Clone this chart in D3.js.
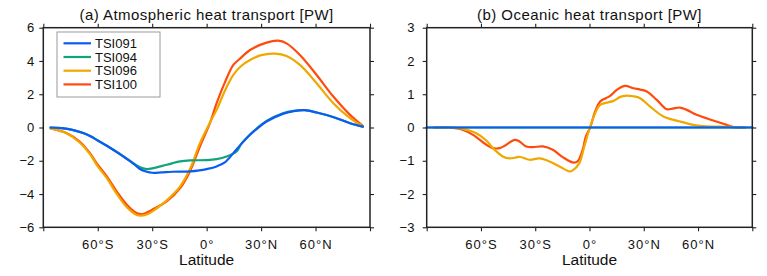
<!DOCTYPE html>
<html><head><meta charset="utf-8">
<script src="https://cdn.jsdelivr.net/npm/d3@7"></script>
<style>
html,body{margin:0;padding:0;background:#fff;}
svg text{font-family:"Liberation Sans",Arial,Helvetica,sans-serif;fill:#111;}
</style></head>
<body>
<svg id="c" width="767" height="276"></svg>
<script>
// ---------- DATA ----------
const seriesNames = ["TSI091", "TSI094", "TSI096", "TSI100"];
const seriesColors = ["#0b5cf5", "#13a37a", "#f0a800", "#ff4b0c"];
const xTickValues = [-90, -60, -30, 0, 30, 60, 90];
const xTickLabels = ["", "60°S", "30°S", "0°", "30°N", "60°N", ""];
const titles = ["(a) Atmospheric heat transport [PW]", "(b) Oceanic heat transport [PW]"];
const xLabel = "Latitude";

// Atmospheric heat transport [lat, PW]
const atmTSI091 = [[-86,0],[-80,-0.04],[-74,-0.14],[-68,-0.33],[-64,-0.52],[-60,-0.78],[-55,-1.1],[-46,-1.74],[-40,-2.2],[-37,-2.48],[-33,-2.66],[-30,-2.72],[-25,-2.7],[-19,-2.66],[-9,-2.64],[-4,-2.58],[0,-2.5],[5.5,-2.34],[10,-2.1],[14.7,-1.54],[19,-1.0],[23.9,-0.44],[28,-0.05],[33,0.36],[42,0.82],[48,0.98],[54,1.04],[60.6,0.9],[70,0.62],[79,0.26],[86,0.05]];
const atmTSI094 = [[-86,0],[-80,-0.04],[-74,-0.14],[-68,-0.33],[-64,-0.52],[-60,-0.78],[-55,-1.1],[-46,-1.72],[-40,-2.18],[-37,-2.38],[-33,-2.5],[-30,-2.46],[-22,-2.24],[-14.6,-2.04],[-9,-1.98],[0,-1.96],[5.5,-1.9],[11,-1.74],[16.5,-1.44],[19,-1.0],[23.9,-0.42],[28,-0.02],[33,0.4],[42,0.86],[48,1.0],[54,1.04],[60.6,0.9],[70,0.62],[79,0.26],[86,0.05]];
const atmTSI096 = [[-86,-0.05],[-77,-0.36],[-70,-0.9],[-64.3,-1.6],[-60,-2.34],[-55,-3.05],[-49.6,-3.98],[-44,-4.8],[-38.6,-5.26],[-36,-5.3],[-32,-5.18],[-28,-4.9],[-22,-4.38],[-14.6,-3.54],[-9.2,-2.5],[-3.7,-0.94],[1.8,0.3],[5.5,1.06],[10,2.2],[14.7,3.16],[19,3.7],[23.9,4.06],[30,4.35],[37.6,4.44],[44,4.3],[51.4,3.76],[60.6,2.66],[69.8,1.46],[79,0.56],[86,0.06]];
const atmTSI100 = [[-86,-0.05],[-77,-0.34],[-70,-0.84],[-64.3,-1.54],[-60,-2.24],[-55,-2.94],[-49.6,-3.84],[-44,-4.64],[-38.6,-5.14],[-35,-5.2],[-30,-4.94],[-22,-4.44],[-14.6,-3.64],[-9.2,-2.64],[-3.7,-1.14],[1.8,0.26],[5.5,1.46],[10,2.7],[14.7,3.76],[18,4.1],[23.9,4.66],[33,5.1],[39.4,5.22],[44,5.06],[51.4,4.36],[60.6,3.16],[69.8,1.86],[79,0.76],[86,0.1]];

// Oceanic heat transport [lat, PW]
const ocnTSI091 = [[-90,0],[90,0]];
const ocnTSI094 = [[-90,0],[90,0]];
const ocnTSI096 = [[-86,0],[-75,0],[-68,-0.07],[-62.6,-0.17],[-57,-0.39],[-53.4,-0.62],[-47.9,-0.87],[-44.3,-0.93],[-40.5,-0.9],[-38.7,-0.88],[-33.2,-0.97],[-27.7,-0.93],[-22.1,-1.02],[-16.6,-1.17],[-11.1,-1.32],[-9.3,-1.29],[-5.6,-1.07],[-2.9,-0.57],[0.4,0.03],[3.1,0.43],[5.9,0.68],[9,0.74],[13.3,0.8],[17,0.92],[20.6,0.96],[24,0.94],[28,0.88],[33.5,0.63],[40.9,0.33],[50,0.18],[57.3,0.08],[62.8,0.04],[77.6,0.02],[86,0]];
const ocnTSI100 = [[-86,0],[-77.7,0],[-70,-0.07],[-64.4,-0.22],[-57,-0.52],[-53.4,-0.62],[-49.7,-0.62],[-46,-0.52],[-41.4,-0.37],[-38.7,-0.42],[-35,-0.57],[-31.3,-0.59],[-25.8,-0.57],[-20.3,-0.67],[-14.8,-0.89],[-9.3,-1.05],[-6.6,-1.02],[-3.8,-0.67],[-2,-0.27],[0.4,0],[3.1,0.48],[5.9,0.78],[9,0.88],[11.4,0.95],[15.1,1.13],[19.7,1.25],[24.3,1.18],[28,1.14],[31.7,1.08],[37.2,0.83],[42.7,0.55],[46,0.57],[50,0.6],[53.7,0.53],[59.2,0.38],[68.4,0.21],[75.8,0.08],[79.5,0.01],[86,0]];

const atmSeries = [atmTSI091, atmTSI094, atmTSI096, atmTSI100];
const ocnSeries = [ocnTSI091, ocnTSI094, ocnTSI096, ocnTSI100];
const atmYTicks = [-6, -4, -2, 0, 2, 4, 6];
const ocnYTicks = [-3, -2, -1, 0, 1, 2, 3];

// ---------- DRAW ----------
const svg = d3.select("#c");
const fmt = d3.format("");

const panels = [
  {x0: 43.3, x1: 370, y0: 27.7, y1: 227.3, dom: [-6, 6], yt: atmYTicks, series: atmSeries, title: titles[0], ypad: 5, legend: true},
  {x0: 426.7, x1: 752.3, y0: 27.7, y1: 227.3, dom: [-3, 3], yt: ocnYTicks, series: ocnSeries, title: titles[1], ypad: 8.3, legend: false}
];

panels.forEach(p => {
  const x = d3.scaleLinear().domain([-90, 90]).range([p.x0, p.x1]);
  const y = d3.scaleLinear().domain(p.dom).range([p.y1, p.y0]);
  const g = svg.append("g");

  // lines (draw order: TSI100, TSI096, TSI094, TSI091 on top)
  const line = d3.line().x(d => x(d[0])).y(d => y(d[1])).curve(d3.curveCatmullRom.alpha(0.5));
  [3, 2, 1, 0].forEach(i => {
    g.append("path").datum(p.series[i])
      .attr("d", line).attr("fill", "none")
      .attr("stroke", seriesColors[i]).attr("stroke-width", 2.2)
      .attr("stroke-linejoin", "round").attr("stroke-linecap", "round");
  });

  // axes
  const styleAxis = sel => {
    sel.select(".domain").remove();
    sel.selectAll(".tick line").attr("stroke", "#222").attr("stroke-width", 1.1);
    sel.selectAll("text").attr("fill", "#111").style("font-size", "13px").attr("font-family", null);
  };
  g.append("g").attr("transform", `translate(0,${p.y1})`)
    .call(d3.axisBottom(x).tickValues(xTickValues).tickSize(4).tickPadding(8.7)
      .tickFormat((d, i) => xTickLabels[i]))
    .call(styleAxis)
    .call(s => s.selectAll("text").style("letter-spacing", "1px"));
  g.append("g").attr("transform", `translate(0,${p.y0})`)
    .call(d3.axisTop(x).tickValues(xTickValues).tickSize(4).tickFormat(""))
    .call(styleAxis);
  g.append("g").attr("transform", `translate(${p.x0},0)`)
    .call(d3.axisLeft(y).tickValues(p.yt).tickSize(4).tickPadding(p.ypad).tickFormat(fmt))
    .call(styleAxis);
  g.append("g").attr("transform", `translate(${p.x1},0)`)
    .call(d3.axisRight(y).tickValues(p.yt).tickSize(4).tickFormat(""))
    .call(styleAxis);

  // frame
  g.append("rect").attr("x", p.x0).attr("y", p.y0)
    .attr("width", p.x1 - p.x0).attr("height", p.y1 - p.y0)
    .attr("fill", "none").attr("stroke", "#222").attr("stroke-width", 1.5);

  // title and x label
  const cx = (p.x0 + p.x1) / 2;
  g.append("text").attr("x", cx).attr("y", 19.5).attr("text-anchor", "middle")
    .style("font-size", "15px").style("letter-spacing", "0.45px").text(p.title);
  g.append("text").attr("x", cx).attr("y", 265).attr("text-anchor", "middle")
    .style("font-size", "15.5px").text(xLabel);

  if (p.legend) {
    const lg = g.append("g");
    lg.append("rect").attr("x", 57).attr("y", 32).attr("width", 103).attr("height", 65)
      .attr("fill", "#fff").attr("stroke", "#9a9a9a").attr("stroke-width", 1);
    seriesNames.forEach((n, i) => {
      const yy = 43.3 + i * 13.7;
      lg.append("line").attr("x1", 63.5).attr("x2", 91).attr("y1", yy).attr("y2", yy)
        .attr("stroke", seriesColors[i]).attr("stroke-width", 2.2);
      lg.append("text").attr("x", 95).attr("y", yy).attr("dy", "0.36em")
        .style("font-size", "13px").text(n);
    });
  }
});
</script>
</body></html>
